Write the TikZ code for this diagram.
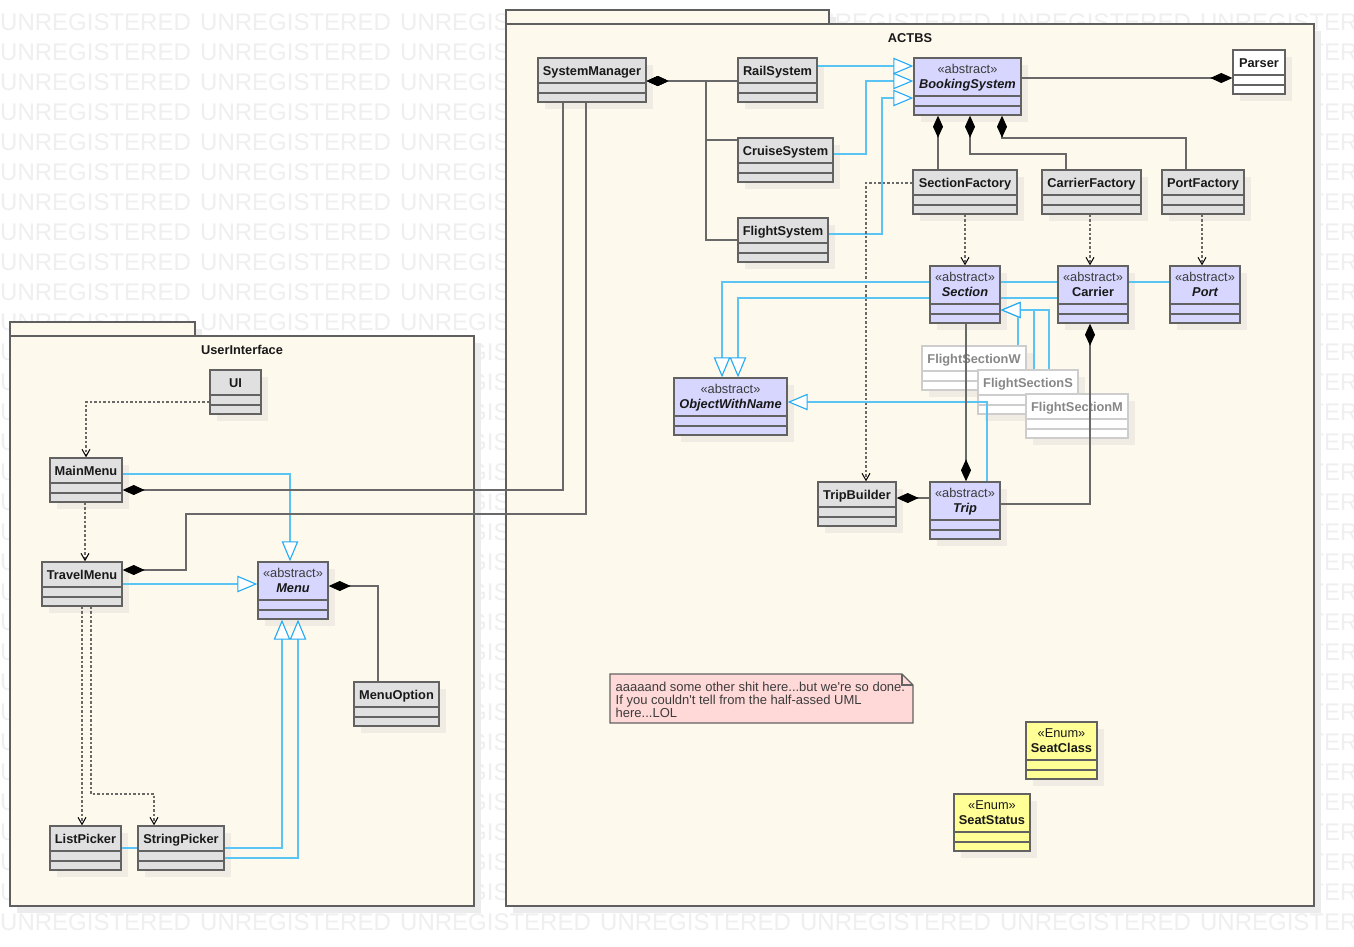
\documentclass[tikz,border=0pt]{standalone}
\usepackage{fontspec}
\setmainfont{Liberation Sans}
\usetikzlibrary{arrows.meta,fit,calc}
\definecolor{pkgfill}{RGB}{253,249,236}
\definecolor{pkgline}{RGB}{95,95,95}
\definecolor{gfill}{RGB}{224,224,224}
\definecolor{afill}{RGB}{214,214,255}
\definecolor{efill}{RGB}{255,255,150}
\definecolor{nfill}{RGB}{255,216,216}
\definecolor{bordc}{RGB}{98,98,98}
\definecolor{lbord}{RGB}{205,205,205}
\definecolor{ltext}{RGB}{135,135,135}
\definecolor{linec}{RGB}{105,105,105}
\definecolor{cyanl}{RGB}{90,197,245}
\definecolor{tric}{RGB}{35,170,245}
\definecolor{wmc}{RGB}{239,239,239}
\definecolor{pshad}{RGB}{236,236,236}
\definecolor{bshad}{RGB}{240,236,228}
\definecolor{textc}{RGB}{25,25,25}
\definecolor{sttext}{RGB}{60,60,60}
\definecolor{notetc}{RGB}{60,60,60}
\pgfdeclarelayer{wm}\pgfdeclarelayer{pkg}\pgfdeclarelayer{shad}
\pgfdeclarelayer{lightA}\pgfdeclarelayer{lightB}\pgfdeclarelayer{conn}
\pgfsetlayers{wm,pkg,shad,lightA,lightB,conn,main}
\newcommand\nmfont{\fontsize{12.8}{14}\selectfont\bfseries}
\newcommand\stfont{\fontsize{12.8}{14}\selectfont}
\newcommand\wmword{\makebox[200pt][l]{UNREGISTERED}}
\newcommand\wmrow{\wmword\wmword\wmword\wmword\wmword\wmword\wmword}
\tikzset{
  gbox/.style={draw=bordc, fill=gfill, line width=1.4pt, inner sep=0pt},
  abox/.style={gbox, fill=afill},
  ebox/.style={gbox, fill=efill},
  wbox/.style={gbox, fill=white},
  lbox/.style={draw=lbord, fill=white, line width=1.4pt, inner sep=0pt},
  cline/.style={draw=bordc, line width=1.4pt},
  lline/.style={draw=lbord, line width=1.4pt},
  nm/.style={inner sep=0pt, text height=9.2pt, text depth=0pt, font=\nmfont, text=textc},
  nmi/.style={nm, font=\nmfont\itshape},
  st/.style={inner sep=0pt, text height=9.2pt, text depth=0pt, font=\stfont, text=sttext},
  lt/.style={nm, text=ltext},
  pkg/.style={draw=pkgline, fill=pkgfill, line width=1.5pt, inner sep=0pt},
  ptitle/.style={nm},
  wmt/.style={inner sep=0pt, anchor=base west, font=\fontsize{24}{24}\selectfont, text=wmc},
  comp/.style={draw=linec, line width=1.1pt, line join=miter, {Diamond[length=22pt,width=10pt,color=black,fill=black]}-},
  compend/.style={draw=linec, line width=1.1pt, -{Diamond[length=22pt,width=10pt,color=black,fill=black]}},
  gen/.style={draw=cyanl, line width=1.1pt, -{Triangle[length=20pt,width=16.5pt,color=tric,fill=white]}},
  cyanline/.style={draw=cyanl, line width=1.1pt},
  dep/.style={draw=linec, line width=1.1pt, dash pattern=on 2.5pt off 2pt, -{Straight Barb[length=7pt,width=8pt,color=black,line width=1pt]}},
  notet/.style={inner sep=0pt, anchor=base west, font=\fontsize{13}{13}\selectfont, text=notetc},
}
% name, style, x1, y1, x2, y2, header height, compartment line style
\newcommand\ucls[8]{%
  \begin{pgfonlayer}{shad}\fill[bshad] (#3+7,#4+7) rectangle (#5+7,#6+7);\end{pgfonlayer}
  \node[#2, fit={(#3,#4) (#5,#6)}] (#1) {};
  \draw[#8] (#3,#4+#7) -- (#5,#4+#7) (#3,#4+#7+10) -- (#5,#4+#7+10);
}
\newcommand\ulight[6]{%
  \begin{pgfonlayer}{shad}\fill[bshad] (#2+7,#3+7) rectangle (#4+7,#5+7);\end{pgfonlayer}
  \begin{pgfonlayer}{lightB}
  \node[lbox, fit={(#2,#3) (#4,#5)}] (#1) {};
  \draw[lline] (#2,#3+25) -- (#4,#3+25) (#2,#3+35) -- (#4,#3+35);
  \node[lt] (#1-t) at ($(#1.north)+(0,13.4)$) {#6};
  \end{pgfonlayer}
}
\begin{document}
\begin{tikzpicture}[x=1pt,y=-1pt]
\useasboundingbox (0,0) rectangle (1354,946);
% watermark
\begin{pgfonlayer}{wm}
\fill[white] (0,0) rectangle (1354,946);
\begin{scope}
\clip (0,0) rectangle (1354,946);
\foreach \k in {0,...,30}{
  \node[wmt] (wm\k) at (0,30+30*\k) {\wmrow};
}
\end{scope}
\end{pgfonlayer}
% packages
\begin{pgfonlayer}{pkg}
\fill[pshad] (513,17) rectangle (836,31);
\fill[pshad] (513,31) rectangle (1321,913);
\fill[pshad] (17,329) rectangle (202,343);
\fill[pshad] (17,343) rectangle (481,913);
\node[pkg, fit={(506,10) (829,24)}] (ACTBStab) {};
\node[pkg, fit={(506,24) (1314,906)}] (ACTBS) {};
\node[pkg, fit={(10,322) (195,336)}] (UItab) {};
\node[pkg, fit={(10,336) (474,906)}] (UIpkg) {};
\node[ptitle] (ACTBS-t) at (910,37.6) {ACTBS};
\node[ptitle] (UIpkg-t) at (242,349.6) {UserInterface};
\end{pgfonlayer}
% classes
\ucls{SM}{gbox}{538}{58}{646}{102}{25}{cline}
\node[nm] (SM-t) at ($(SM.north)+(0,13.6)$) {SystemManager};
\ucls{RS}{gbox}{738}{58}{817}{102}{25}{cline}
\node[nm] (RS-t) at ($(RS.north)+(0,13.6)$) {RailSystem};
\ucls{CS}{gbox}{738}{138}{833}{182}{25}{cline}
\node[nm] (CS-t) at ($(CS.north)+(0,13.6)$) {CruiseSystem};
\ucls{FS}{gbox}{738}{218}{828}{262}{25}{cline}
\node[nm] (FS-t) at ($(FS.north)+(0,13.6)$) {FlightSystem};
\ucls{BS}{abox}{914}{58}{1021}{115}{38}{cline}
\node[st] (BS-s) at ($(BS.north)+(0,11.8)$) {«abstract»};
\node[nmi] (BS-t) at ($(BS.north)+(0,26.3)$) {BookingSystem};
\ucls{PA}{wbox}{1233}{50}{1285}{94}{25}{cline}
\node[nm] (PA-t) at ($(PA.north)+(0,13.3)$) {Parser};
\ucls{SF}{gbox}{913}{170}{1017}{214}{25}{cline}
\node[nm] (SF-t) at ($(SF.north)+(0,13.6)$) {SectionFactory};
\ucls{CF}{gbox}{1042}{170}{1141}{214}{25}{cline}
\node[nm] (CF-t) at ($(CF.north)+(0,13.6)$) {CarrierFactory};
\ucls{PF}{gbox}{1162}{170}{1244}{214}{25}{cline}
\node[nm] (PF-t) at ($(PF.north)+(0,13.6)$) {PortFactory};
\ucls{SE}{abox}{930}{266}{1000}{323}{38}{cline}
\node[st] (SE-s) at ($(SE.north)+(0,11.8)$) {«abstract»};
\node[nmi] (SE-t) at ($(SE.north)+(0,26.3)$) {Section};
\ucls{CA}{abox}{1058}{266}{1128}{323}{38}{cline}
\node[st] (CA-s) at ($(CA.north)+(0,11.8)$) {«abstract»};
\node[nm] (CA-t) at ($(CA.north)+(0,26.3)$) {Carrier};
\ucls{PO}{abox}{1170}{266}{1240}{323}{38}{cline}
\node[st] (PO-s) at ($(PO.north)+(0,11.8)$) {«abstract»};
\node[nmi] (PO-t) at ($(PO.north)+(0,26.3)$) {Port};
\ucls{OW}{abox}{674}{378}{787}{435}{38}{cline}
\node[st] (OW-s) at ($(OW.north)+(0,11.8)$) {«abstract»};
\node[nmi] (OW-t) at ($(OW.north)+(0,26.3)$) {ObjectWithName};
\ucls{TB}{gbox}{818}{482}{896}{526}{25}{cline}
\node[nm] (TB-t) at ($(TB.north)+(0,13.6)$) {TripBuilder};
\ucls{TR}{abox}{930}{482}{1000}{539}{38}{cline}
\node[st] (TR-s) at ($(TR.north)+(0,11.8)$) {«abstract»};
\node[nmi] (TR-t) at ($(TR.north)+(0,26.3)$) {Trip};
\ucls{UI}{gbox}{210}{370}{261}{414}{25}{cline}
\node[nm] (UI-t) at ($(UI.north)+(0,13.4)$) {UI};
\ucls{MM}{gbox}{50}{458}{122}{502}{25}{cline}
\node[nm] (MM-t) at ($(MM.north)+(0,13.4)$) {MainMenu};
\ucls{TM}{gbox}{42}{562}{122}{606}{25}{cline}
\node[nm] (TM-t) at ($(TM.north)+(0,13.4)$) {TravelMenu};
\ucls{ME}{abox}{258}{562}{328}{619}{38}{cline}
\node[st] (ME-s) at ($(ME.north)+(0,11.8)$) {«abstract»};
\node[nmi] (ME-t) at ($(ME.north)+(0,26.3)$) {Menu};
\ucls{MO}{gbox}{354}{682}{439}{726}{25}{cline}
\node[nm] (MO-t) at ($(MO.north)+(0,13.4)$) {MenuOption};
\ucls{LP}{gbox}{50}{826}{121}{870}{25}{cline}
\node[nm] (LP-t) at ($(LP.north)+(0,13.4)$) {ListPicker};
\ucls{SP}{gbox}{138}{826}{224}{870}{25}{cline}
\node[nm] (SP-t) at ($(SP.north)+(0,13.4)$) {StringPicker};
\ucls{SC}{ebox}{1026}{722}{1097}{779}{38}{cline}
\node[st, text=textc] (SC-s) at ($(SC.north)+(0,11.8)$) {«Enum»};
\node[nm] (SC-t) at ($(SC.north)+(0,26.3)$) {SeatClass};
\ucls{SS}{ebox}{954}{794}{1030}{851}{38}{cline}
\node[st, text=textc] (SS-s) at ($(SS.north)+(0,11.8)$) {«Enum»};
\node[nm] (SS-t) at ($(SS.north)+(0,26.3)$) {SeatStatus};
% light (greyed) classes
\ulight{FW}{922}{346}{1026}{390}{FlightSectionW}
\ulight{FSS}{978}{370}{1078}{414}{FlightSectionS}
\ulight{FM}{1026}{394}{1128}{438}{FlightSectionM}
% note
\draw[draw=bordc, fill=nfill, line width=1.3pt] (610,674) -- (902,674) -- (913,685) -- (913,723) -- (610,723) -- cycle;
\draw[draw=bordc, line width=1.1pt] (902,674) -- (902,685) -- (913,685);
\node[notet] (n1) at (615.5,691) {aaaaand some other shit here...but we\textquotesingle re so done.};
\node[notet] (n2) at (615.5,704) {If you couldn\textquotesingle t tell from the half-assed UML};
\node[notet] (n3) at (615.5,717) {here...LOL};
% connectors
\begin{pgfonlayer}{conn}
\draw[comp] (SM.east |- 0,81) -- (RS.west |- 0,81);
\draw[comp] (SM.east |- 0,81) -- (706,81) |- (CS.west |- 0,140);
\draw[comp] (SM.east |- 0,81) -- (706,81) |- (FS.west |- 0,240);
\draw[gen] (RS.east |- 0,66) -- (BS.west |- 0,66);
\draw[gen] (CS.east |- 0,154) -| (866,81) -- (BS.west |- 0,81);
\draw[gen] (FS.east |- 0,234) -| (882,98) -- (BS.west |- 0,98);
\draw[compend] (BS.east |- 0,78) -- (PA.west |- 0,78);
\draw[comp] (BS.south -| 938,0) -- (SF.north -| 938,0);
\draw[comp] (BS.south -| 970,0) |- (1066,154) -- (CF.north -| 1066,0);
\draw[comp] (BS.south -| 1002,0) |- (1186,138) -- (PF.north -| 1186,0);
\draw[dep] (SF.south -| 965,0) -- (SE.north -| 965,0);
\draw[dep] (CF.south -| 1090,0) -- (CA.north -| 1090,0);
\draw[dep] (PF.south -| 1202,0) -- (PO.north -| 1202,0);
\draw[dep] (SF.west |- 0,183) -| (TB.north -| 866,0);
\draw[gen] (PO.west |- 0,282) -| (OW.north -| 722,0);
\draw[gen] (CA.west |- 0,298) -| (OW.north -| 738,0);
\draw[gen] (TR.north -| 987,0) |- (OW.east |- 0,402);
\draw[gen] (FSS.north -| 1034,0) |- (SE.east |- 0,310);
\draw[cyanline] (FW.north -| 1018,0) -- (1018,317.4);
\draw[compend] (SE.south -| 966,0) -- (TR.north -| 966,0);
\draw[comp] (CA.south -| 1090,0) |- (TR.east |- 0,504);
\draw[comp] (TB.east |- 0,498) -- (TR.west |- 0,498);
\draw[dep] (UI.west |- 0,402) -| (MM.north -| 86,0);
\draw[dep] (MM.south -| 85,0) -- (TM.north -| 85,0);
\draw[gen] (MM.east |- 0,474) -| (ME.north -| 290,0);
\draw[gen] (TM.east |- 0,584) -- (ME.west |- 0,584);
\draw[comp] (MM.east |- 0,490) -| (SM.south -| 563,0);
\draw[comp] (TM.east |- 0,570) -| (186,514) -| (SM.south -| 586,0);
\draw[comp] (ME.east |- 0,586) -| (MO.north -| 378,0);
\draw[dep] (TM.south -| 82,0) -- (LP.north -| 82,0);
\draw[dep] (TM.south -| 91,0) |- (154,794) -- (SP.north -| 154,0);
\draw[gen] (LP.east |- 0,848) -| (ME.south -| 282,0);
\draw[gen] (SP.east |- 0,858) -| (ME.south -| 298,0);
\end{pgfonlayer}
\begin{pgfonlayer}{lightA}
\draw[gen] (FM.north -| 1049,0) |- (SE.east |- 0,310);
\end{pgfonlayer}
\end{tikzpicture}
\end{document}
